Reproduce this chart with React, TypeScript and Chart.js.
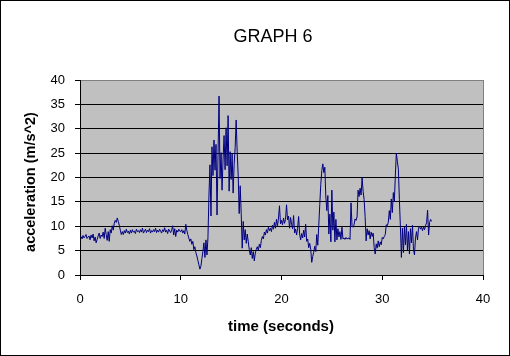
import React, { useEffect, useRef } from "react";
import { Chart, registerables } from "chart.js";

Chart.register(...registerables);

const TITLE = "GRAPH 6";
const X_TITLE = "time (seconds)";
const Y_TITLE = "acceleration (m/s^2)";
const SAMPLE_START = 0;
const SAMPLE_STEP = 0.1;
const X_MIN = 0;
const X_MAX = 40;
const X_STEP = 10;
const Y_MIN = 0;
const Y_MAX = 40;
const Y_STEP = 5;

// acceleration readings, 0.1 s apart
const accel0to5 = [
  7.7, 7.9, 7.4, 8.1, 7.6, 7.9, 8.3, 7.5, 7.8, 8.0,
  7.2, 8.2, 7.6, 8.4, 7.0, 7.8, 6.6, 7.3, 8.0, 8.6,
  7.5, 8.2, 7.9, 8.8, 7.5, 9.6, 8.3, 7.1, 8.9, 6.9,
  9.3, 8.6, 10.1, 9.2, 10.6, 11.2, 10.8, 11.7, 11.0, 10.2,
  9.2, 8.3, 8.9, 8.3, 9.1, 8.6, 9.4, 8.7, 9.0, 8.4,
];
const accel5to10 = [
  9.2, 8.6, 9.3, 8.8, 9.0, 8.5, 9.4, 8.9, 9.1, 8.7,
  9.3, 8.8, 9.6, 8.6, 9.0, 9.4, 8.7, 9.2, 8.9, 9.5,
  8.6, 9.1, 8.8, 9.3, 8.9, 9.6, 8.7, 9.2, 8.8, 9.4,
  9.0, 8.6, 9.3, 8.9, 9.7, 8.8, 9.2, 8.5, 9.4, 9.0,
  8.7, 9.3, 10.1, 8.2, 9.5, 7.9, 9.2, 8.8, 9.4, 9.0,
];
const accel10to15 = [
  8.9, 9.3, 8.6, 9.1, 8.4, 10.4, 9.2, 8.3, 7.6, 6.9,
  7.4, 6.3, 6.9, 5.2, 5.8, 4.6, 3.9, 3.0, 2.1, 1.2,
  1.8, 3.4, 4.8, 6.6, 3.6, 7.2, 4.1, 7.6, 16.4, 22.6,
  12.1, 26.3, 20.4, 27.7, 21.5, 26.8, 12.3, 24.6, 36.7, 19.8,
  25.1, 17.4, 23.8, 28.6, 21.6, 30.2, 22.4, 32.7, 17.2, 25.3,
];
const accel15to20 = [
  19.6, 24.8, 16.8, 22.7, 26.1, 31.8, 25.4, 20.5, 12.6, 18.3,
  12.6, 5.5, 11.0, 7.2, 9.3, 6.5, 8.4, 6.8, 5.2, 4.1,
  5.6, 3.4, 4.8, 2.9, 4.5, 5.3, 5.8, 5.1, 6.3, 5.6,
  7.1, 7.9, 7.4, 8.8, 8.2, 9.3, 8.6, 9.8, 9.1, 9.6,
  8.9, 10.2, 9.4, 10.8, 9.6, 11.4, 10.1, 11.7, 14.2, 10.5,
];
const accel20to25 = [
  11.2, 10.3, 11.7, 10.6, 11.4, 14.4, 11.3, 12.1, 9.6, 11.8,
  10.4, 9.5, 12.2, 8.6, 9.4, 8.2, 9.6, 12.0, 8.4, 7.2,
  8.5, 7.6, 9.2, 7.8, 10.4, 6.9, 7.4, 5.6, 6.5, 5.3,
  2.6, 3.8, 4.7, 5.9, 4.8, 8.3, 6.1, 10.2, 14.5, 18.6,
  21.4, 22.8, 21.0, 22.1, 16.0, 13.2, 16.3, 8.4, 12.5, 6.8,
];
const accel25to30 = [
  17.4, 9.2, 12.9, 6.8, 11.4, 7.2, 9.5, 7.8, 8.9, 7.3,
  9.8, 7.4, 7.6, 7.3, 7.7, 7.4, 7.5, 7.6, 7.3, 14.8,
  10.1, 9.8, 10.3, 11.5, 11.2, 11.9, 17.4, 16.1, 17.8, 16.4,
  20.0, 17.2, 15.5, 12.0, 7.0, 9.5, 8.2, 9.1, 7.4, 8.8,
  7.9, 8.6, 5.6, 4.3, 6.4, 5.5, 7.0, 5.8, 6.8, 6.2,
];
const accel30to35 = [
  7.7, 7.4, 7.9, 8.3, 10.3, 10.1, 10.8, 13.2, 11.4, 15.6,
  12.8, 16.9, 15.0, 20.5, 25.0, 23.3, 21.7, 15.5, 10.0, 3.6,
  9.6, 4.6, 9.8, 6.2, 10.4, 5.1, 8.9, 4.3, 9.5, 6.6,
  10.2, 5.3, 4.1, 7.6, 8.9, 7.2, 9.6, 10.0, 9.4, 9.8,
  9.1, 9.9, 9.3, 10.2, 10.7, 13.3, 8.2, 10.8, 11.4, 11.0,
];

const W = 510;
const H = 356;
const FONT = "Arial, 'Liberation Sans', sans-serif";

export default function App() {
  const ref = useRef<HTMLCanvasElement | null>(null);

  useEffect(() => {
    const canvas = ref.current;
    if (!canvas) return;
    const values = [
      ...accel0to5,
      ...accel5to10,
      ...accel10to15,
      ...accel15to20,
      ...accel20to25,
      ...accel25to30,
      ...accel30to35,
    ];
    const points = values.map((v, i) => ({
      x: +(SAMPLE_START + i * SAMPLE_STEP).toFixed(2),
      y: v,
    }));

    const frame = {
      id: "excelFrame",
      beforeDraw(chart: any) {
        const { ctx, chartArea: a } = chart;
        ctx.save();
        ctx.fillStyle = "#ffffff";
        ctx.fillRect(0, 0, W, H);
        ctx.fillStyle = "#c0c0c0";
        ctx.fillRect(a.left, a.top, a.right - a.left, a.bottom - a.top);
        ctx.strokeStyle = "#000000";
        ctx.lineWidth = 1;
        ctx.strokeRect(0.5, 0.5, W - 1, H - 1);
        ctx.restore();
      },
      afterDraw(chart: any) {
        const { ctx, chartArea: a } = chart;
        ctx.save();
        ctx.strokeStyle = "#808080";
        ctx.lineWidth = 1;
        ctx.beginPath();
        ctx.moveTo(Math.round(a.right) + 0.5, a.top);
        ctx.lineTo(Math.round(a.right) + 0.5, a.bottom);
        ctx.stroke();
        ctx.fillStyle = "#000000";
        ctx.textAlign = "center";
        ctx.textBaseline = "middle";
        ctx.font = `18px ${FONT}`;
        ctx.fillText(TITLE, 273, 37);
        ctx.font = `bold 15px ${FONT}`;
        ctx.fillText(X_TITLE, 281, 327);
        ctx.font = `bold 14.5px ${FONT}`;
        ctx.translate(31, 182);
        ctx.rotate(-Math.PI / 2);
        ctx.fillText(Y_TITLE, 0, 0);
        ctx.restore();
      },
    };

    const chart = new Chart(canvas, {
      type: "line",
      data: {
        datasets: [
          {
            data: points,
            borderColor: "#000080",
            borderWidth: 1,
            pointRadius: 0,
            tension: 0,
            fill: false,
          },
        ],
      },
      options: {
        responsive: false,
        animation: false,
        layout: { padding: { left: 0, right: 27, top: 80, bottom: 0 } },
        plugins: {
          legend: { display: false },
          title: { display: false },
          tooltip: { enabled: false },
        },
        scales: {
          x: {
            type: "linear",
            min: X_MIN,
            max: X_MAX,
            afterFit: (s: any) => {
              s.height = 81;
            },
            ticks: {
              stepSize: X_STEP,
              color: "#000000",
              font: { family: FONT, size: 13 },
              padding: 12,
              maxRotation: 0,
            },
            grid: {
              drawOnChartArea: false,
              drawTicks: true,
              tickLength: 5,
              tickColor: "#000000",
            },
            border: { color: "#000000", width: 1 },
          },
          y: {
            type: "linear",
            min: Y_MIN,
            max: Y_MAX,
            afterFit: (s: any) => {
              s.width = 80;
            },
            ticks: {
              stepSize: Y_STEP,
              color: "#000000",
              font: { family: FONT, size: 13 },
              padding: 10,
            },
            grid: {
              color: (c: any) => (c.tick && c.tick.value === Y_MAX ? "#808080" : "#000000"),
              tickColor: "#000000",
              drawTicks: true,
              tickLength: 5,
              lineWidth: 1,
            },
            border: { color: "#000000", width: 1 },
          },
        },
      },
      plugins: [frame],
    });
    return () => chart.destroy();
  }, []);

  return (
    <div style={{ position: "absolute", left: 0, top: 0, width: W, height: H }}>
      <canvas ref={ref} width={W} height={H} style={{ display: "block", width: W, height: H }} />
    </div>
  );
}
